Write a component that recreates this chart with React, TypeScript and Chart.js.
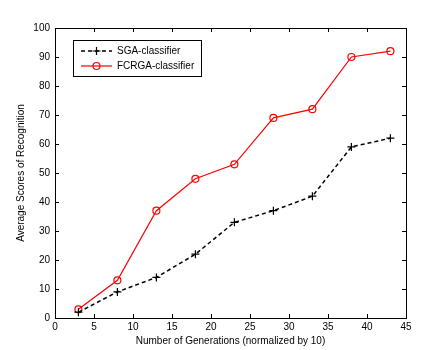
import React, { useEffect, useRef } from "react";
import { Chart, registerables } from "chart.js";

Chart.register(...registerables);

const generations = [3, 8, 13, 18, 23, 28, 33, 38, 43];
const sgaScores = [2, 9, 14, 22, 33, 37, 42, 59, 62];
const fcrgaScores = [3, 13, 37, 48, 53, 69, 72, 90, 92];
const xTicks = [0, 5, 10, 15, 20, 25, 30, 35, 40, 45];
const yTicks = [0, 10, 20, 30, 40, 50, 60, 70, 80, 90, 100];
const seriesNames = ["SGA-classifier", "FCRGA-classifier"];

const FONT = '"Liberation Sans", Arial, sans-serif';

const boxPlugin = {
  id: "matlabBox",
  afterDraw(chart: any) {
    const { ctx, chartArea } = chart;
    const { left, right, top, bottom } = chartArea;
    const xs = chart.scales.x;
    const ys = chart.scales.y;
    ctx.save();
    ctx.strokeStyle = "#000";
    ctx.lineWidth = 1;
    ctx.setLineDash([]);
    ctx.strokeRect(Math.round(left) + 0.5, Math.round(top) + 0.5, Math.round(right - left), Math.round(bottom - top));
    const tl = 4;
    ctx.beginPath();
    xTicks.forEach((v) => {
      const px = Math.round(xs.getPixelForValue(v)) + 0.5;
      ctx.moveTo(px, bottom);
      ctx.lineTo(px, bottom - tl);
      ctx.moveTo(px, top);
      ctx.lineTo(px, top + tl);
    });
    yTicks.forEach((v) => {
      const py = Math.round(ys.getPixelForValue(v)) + 0.5;
      ctx.moveTo(left, py);
      ctx.lineTo(left + tl, py);
      ctx.moveTo(right, py);
      ctx.lineTo(right - tl, py);
    });
    ctx.stroke();

    // legend
    const lx = 73, ly = 40, lw = 128, lh = 36;
    ctx.fillStyle = "#fff";
    ctx.fillRect(lx, ly, lw, lh);
    ctx.strokeStyle = "#000";
    ctx.strokeRect(lx + 0.5, ly + 0.5, lw, lh);
    ctx.font = `10px ${FONT}`;
    ctx.textBaseline = "middle";
    ctx.textAlign = "left";
    const rows = [ly + 11, ly + 26];
    // SGA
    ctx.strokeStyle = "#000";
    ctx.lineWidth = 1.5;
    ctx.setLineDash([4, 3]);
    ctx.beginPath();
    ctx.moveTo(81, rows[0]);
    ctx.lineTo(112, rows[0]);
    ctx.stroke();
    ctx.setLineDash([]);
    ctx.lineWidth = 1.2;
    ctx.beginPath();
    ctx.moveTo(96.5 - 4, rows[0]);
    ctx.lineTo(96.5 + 4, rows[0]);
    ctx.moveTo(96.5, rows[0] - 4);
    ctx.lineTo(96.5, rows[0] + 4);
    ctx.stroke();
    ctx.fillStyle = "#000";
    ctx.fillText(seriesNames[0], 117, rows[0]);
    // FCRGA
    ctx.strokeStyle = "#ff0000";
    ctx.lineWidth = 1.2;
    ctx.beginPath();
    ctx.moveTo(81, rows[1]);
    ctx.lineTo(112, rows[1]);
    ctx.stroke();
    ctx.beginPath();
    ctx.arc(96.5, rows[1], 3.5, 0, Math.PI * 2);
    ctx.stroke();
    ctx.fillText(seriesNames[1], 117, rows[1]);
    ctx.restore();
  },
};

export default function App() {
  const ref = useRef<HTMLCanvasElement | null>(null);
  useEffect(() => {
    document.body.style.margin = "0";
    document.body.style.background = "#fff";
    const canvas = ref.current!;
    const chart = new Chart(canvas, {
      type: "scatter",
      data: {
        datasets: [
          {
            label: seriesNames[0],
            data: generations.map((g, i) => ({ x: g, y: sgaScores[i] })),
            showLine: true,
            borderColor: "#000",
            backgroundColor: "#000",
            borderWidth: 1.5,
            borderDash: [4, 3],
            pointStyle: "cross",
            pointRadius: 4,
            pointBorderWidth: 1.2,
            pointBorderColor: "#000",
          },
          {
            label: seriesNames[1],
            data: generations.map((g, i) => ({ x: g, y: fcrgaScores[i] })),
            showLine: true,
            borderColor: "#ff0000",
            backgroundColor: "rgba(0,0,0,0)",
            borderWidth: 1.2,
            pointStyle: "circle",
            pointRadius: 3.5,
            pointBorderWidth: 1.2,
            pointBorderColor: "#ff0000",
          },
        ],
      },
      options: {
        animation: false,
        responsive: false,
        devicePixelRatio: 1,
        layout: { padding: { top: 28, right: 38, left: 0, bottom: 0 } },
        plugins: { legend: { display: false }, tooltip: { enabled: false } },
        scales: {
          x: {
            type: "linear",
            min: 0,
            max: 45,
            afterFit: (s: any) => { s.height = 32; },
            afterBuildTicks: (s: any) => { s.ticks = xTicks.map((v) => ({ value: v })); },
            grid: { display: false, drawTicks: false },
            border: { display: false },
            ticks: { color: "#000", font: { family: FONT, size: 10 }, padding: 3, maxRotation: 0 },
            title: {
              display: true,
              text: "Number of Generations (normalized by 10)",
              color: "#000",
              font: { family: FONT, size: 10 },
              padding: { top: 0, bottom: 3 },
            },
          },
          y: {
            type: "linear",
            min: 0,
            max: 100,
            afterFit: (s: any) => { s.width = 55; },
            afterBuildTicks: (s: any) => { s.ticks = yTicks.map((v) => ({ value: v })); },
            grid: { display: false, drawTicks: false },
            border: { display: false },
            ticks: { color: "#000", font: { family: FONT, size: 10 }, padding: 5 },
            title: {
              display: true,
              text: "Average Scores of Recognition",
              color: "#000",
              font: { family: FONT, size: 10 },
              padding: { top: 15, bottom: 0 },
            },
          },
        },
      },
      plugins: [boxPlugin],
    });
    return () => chart.destroy();
  }, []);
  return (
    <div style={{ width: 444, height: 350, background: "#fff" }}>
      <canvas ref={ref} width={444} height={350} style={{ display: "block" }} />
    </div>
  );
}
